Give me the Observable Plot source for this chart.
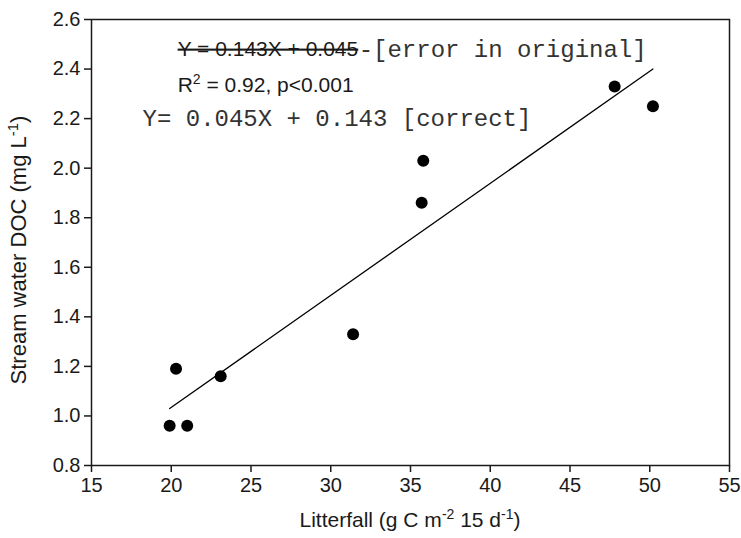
<!DOCTYPE html>
<html>
<head>
<meta charset="utf-8">
<script src="https://cdn.jsdelivr.net/npm/d3@7"></script>
<script src="https://cdn.jsdelivr.net/npm/@observablehq/plot@0.6"></script>
<style>
  html, body { margin: 0; padding: 0; background: #fff; }
  #chart { width: 741px; height: 538px; }
</style>
</head>
<body>
<div id="chart"></div>
<script>
// ---- data ----
const litterfall = [19.9, 20.3, 21.0, 23.1, 31.4, 35.7, 35.8, 47.8, 50.2];
const streamDOC  = [0.96, 1.19, 0.96, 1.16, 1.33, 1.86, 2.03, 2.33, 2.25];
const fitX = [19.9, 50.2];
const fitY = [1.03, 2.40];
const xTicks = [15, 20, 25, 30, 35, 40, 45, 50, 55];
const yTicks = [0.8, 1.0, 1.2, 1.4, 1.6, 1.8, 2.0, 2.2, 2.4, 2.6];
const eqWrong = "Y = 0.143X + 0.045";
const eqWrongNote = "-[error in original]";
const eqCorrect = "Y= 0.045X + 0.143 [correct]";
const r2Text = "R2 = 0.92, p<0.001";

const points = litterfall.map((x, i) => ({x, y: streamDOC[i]}));
const fit = fitX.map((x, i) => ({x, y: fitY[i]}));

const sans = "'Liberation Sans', Arial, Helvetica, sans-serif";
const mono = "'Liberation Mono', 'Courier New', monospace";
const ink = "#1a1a1a";

const plot = Plot.plot({
  width: 741,
  height: 538,
  marginLeft: 91,
  marginRight: 12,
  marginTop: 19,
  marginBottom: 73,
  style: {fontFamily: sans, fontSize: "20px", color: ink, background: "#fff"},
  x: {domain: [15, 55], ticks: xTicks, label: null},
  y: {domain: [0.8, 2.6], ticks: yTicks, label: null},
  marks: [
    Plot.axisX({ticks: xTicks, tickSize: 7, tickPadding: 5, strokeWidth: 1.5, label: null}),
    Plot.axisY({ticks: yTicks, tickSize: 7, tickPadding: 4, strokeWidth: 1.5, tickFormat: d3.format(".1f"), label: null}),
    Plot.frame({stroke: ink, strokeWidth: 1.5}),
    Plot.line(fit, {x: "x", y: "y", stroke: "#000", strokeWidth: 1.3}),
    Plot.dot(points, {x: "x", y: "y", r: 6, fill: "#000", stroke: "none"}),
    Plot.text([eqWrong], {x: 20.4, y: 2.48, text: d => d, textAnchor: "start", fontSize: 21, fontFamily: sans, fill: ink}),
    Plot.text([eqWrongNote], {x: 20.4, y: 2.48, dx: 181, text: d => d, textAnchor: "start", fontSize: 24, fontFamily: mono, fill: "#333"}),
    Plot.text([r2Text], {x: 20.4, y: 2.335, text: d => d, textAnchor: "start", fontSize: 21, fontFamily: sans, fill: ink}),
    Plot.text([eqCorrect], {x: 18.2, y: 2.20, text: d => d, textAnchor: "start", fontSize: 24, fontFamily: mono, fill: "#333"})
  ]
});

document.getElementById("chart").appendChild(plot);

const svg = d3.select(plot);
// tick label sizes
svg.selectAll('[aria-label="x-axis tick label"], [aria-label="y-axis tick label"]')
  .style("font-size", "20px");
svg.selectAll('[aria-label="x-axis tick label"] text, [aria-label="y-axis tick label"] text')
  .style("font-size", "20px");

// strike-through on the wrong equation
svg.selectAll("text").filter(function() { return this.textContent === eqWrong; })
  .style("text-decoration", "line-through");

// superscript in R²
svg.selectAll("text").filter(function() { return this.textContent === r2Text; })
  .each(function() {
    const t = d3.select(this);
    t.text(null);
    t.append("tspan").text("R");
    t.append("tspan").attr("font-size", 14).attr("dy", -8).text("2");
    t.append("tspan").attr("dy", 8).text(" = 0.92, p<0.001");
  });

const xRange = plot.scale("x").range;
const yRange = plot.scale("y").range;

// x axis title
const xt = svg.append("text")
  .attr("x", (xRange[0] + xRange[1]) / 2).attr("y", 527)
  .attr("text-anchor", "middle")
  .attr("font-family", sans).attr("font-size", 21).attr("fill", ink);
xt.append("tspan").text("Litterfall (g C m");
xt.append("tspan").attr("font-size", 14).attr("dy", -8).text("-2");
xt.append("tspan").attr("dy", 8).text(" 15 d");
xt.append("tspan").attr("font-size", 14).attr("dy", -8).text("-1");
xt.append("tspan").attr("dy", 8).text(")");

// y axis title
const yMid = (yRange[0] + yRange[1]) / 2 + 8;
const yt = svg.append("text")
  .attr("transform", `translate(26,${yMid}) rotate(-90)`)
  .attr("text-anchor", "middle")
  .attr("font-family", sans).attr("font-size", 22).attr("fill", ink);
yt.append("tspan").text("Stream water DOC (mg L");
yt.append("tspan").attr("font-size", 15).attr("dy", -8).text("-1");
yt.append("tspan").attr("dy", 8).text(")");
</script>
</body>
</html>
